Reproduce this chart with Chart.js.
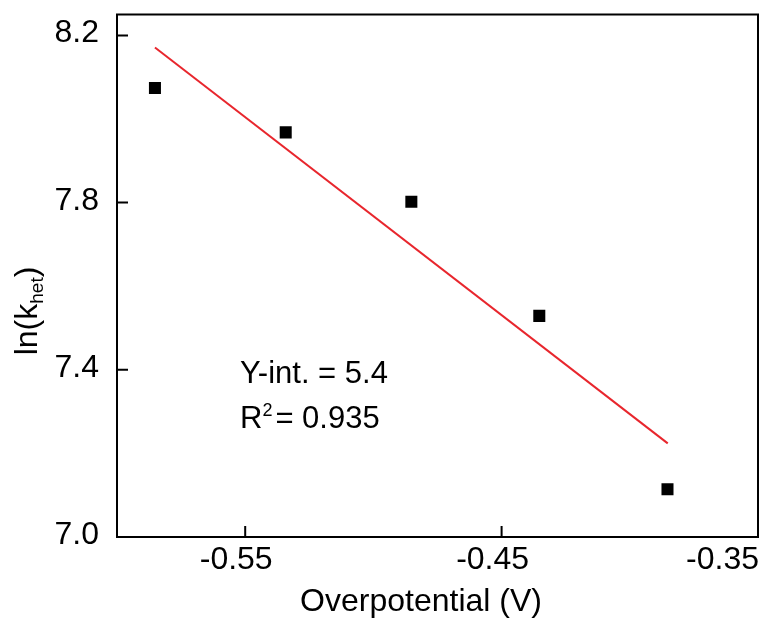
<!DOCTYPE html>
<html>
<head>
<meta charset="utf-8">
<title>ln(k_het) vs overpotential</title>
<script src="https://cdn.jsdelivr.net/npm/chart.js@4.4.1/dist/chart.umd.min.js"></script>
<style>
  html, body { margin: 0; padding: 0; background: #ffffff; overflow: hidden; }
  #wrap { position: relative; width: 762px; height: 618px; }
  #chart { display: block; }
</style>
</head>
<body>
<div id="wrap"><canvas id="chart"></canvas></div>
<script>
// Measured points: overpotential (V) and ln(k_het)
const overpotential = [-0.5852, -0.5342, -0.4852, -0.4353, -0.3853];
const lnKhet = [8.074, 7.968, 7.802, 7.529, 7.114];

// Linear fit drawn across the measured range
const fitX = [-0.5852, -0.3852];
const fitY = [8.171, 7.224];

// Axis ticks
const xTicks = [-0.55, -0.45, -0.35];
const xTickLabels = ['-0.55', '-0.45', '-0.35'];
const yTicks = [7.0, 7.4, 7.8, 8.2];
const yTickLabels = ['7.0', '7.4', '7.8', '8.2'];

const FONT = '"Liberation Sans", Arial, Helvetica, sans-serif';

const framePlugin = {
  id: 'frameAndLabels',
  afterDraw(chart) {
    const ctx = chart.ctx;
    const area = chart.chartArea;
    const xs = chart.scales.x;
    const ys = chart.scales.y;
    ctx.save();

    // Box around the plot
    ctx.strokeStyle = '#000000';
    ctx.lineWidth = 2;
    ctx.strokeRect(area.left, area.top, area.right - area.left, area.bottom - area.top);

    // Inward tick marks
    const tickLen = 11;
    ctx.beginPath();
    xTicks.forEach(v => {
      const px = xs.getPixelForValue(v);
      ctx.moveTo(px, area.bottom);
      ctx.lineTo(px, area.bottom - tickLen);
    });
    yTicks.forEach(v => {
      const py = ys.getPixelForValue(v);
      ctx.moveTo(area.left, py);
      ctx.lineTo(area.left + tickLen, py);
    });
    ctx.stroke();

    // Tick labels
    ctx.fillStyle = '#000000';
    ctx.font = '32px ' + FONT;
    ctx.textBaseline = 'alphabetic';
    ctx.textAlign = 'right';
    yTicks.forEach((v, i) => {
      const py = ys.getPixelForValue(v);
      ctx.fillText(yTickLabels[i], area.left - 18, py + 7);
    });
    ctx.textAlign = 'left';
    xTicks.forEach((v, i) => {
      const px = xs.getPixelForValue(v);
      const w = ctx.measureText(xTickLabels[i]).width;
      let left = px - 9 - w / 2;
      if (left + w > chart.width - 3) left = chart.width - 3 - w;
      ctx.fillText(xTickLabels[i], left, 569);
    });

    // X axis title
    ctx.textAlign = 'center';
    ctx.fillText('Overpotential (V)', 421, 611);

    // Y axis title with subscript, rotated
    ctx.save();
    ctx.font = '32px ' + FONT;
    const mainW = ctx.measureText('ln(k').width;
    const closeW = ctx.measureText(')').width;
    ctx.font = '19px ' + FONT;
    const subW = ctx.measureText('het').width;
    const total = mainW + subW + closeW;
    ctx.translate(37, 311 + total / 2);
    ctx.rotate(-Math.PI / 2);
    ctx.textAlign = 'left';
    ctx.font = '32px ' + FONT;
    ctx.fillText('ln(k', 0, 0);
    ctx.font = '19px ' + FONT;
    ctx.fillText('het', mainW, 6);
    ctx.font = '32px ' + FONT;
    ctx.fillText(')', mainW + subW, 0);
    ctx.restore();

    // Fit annotation
    ctx.textAlign = 'left';
    ctx.font = '31px ' + FONT;
    ctx.fillText('Y-int. = 5.4', 240, 383);
    ctx.fillText('R', 240, 428);
    const rW = ctx.measureText('R').width;
    ctx.font = '18px ' + FONT;
    ctx.fillText('2', 240 + rW, 416);
    const sW = ctx.measureText('2').width;
    ctx.font = '31px ' + FONT;
    ctx.fillText('= 0.935', 240 + rW + sW + 3, 428);

    ctx.restore();
  }
};

new Chart(document.getElementById('chart'), {
  data: {
    datasets: [
      {
        type: 'line',
        label: 'Linear fit',
        data: fitX.map((x, i) => ({ x: x, y: fitY[i] })),
        borderColor: '#e8262d',
        borderWidth: 2,
        pointRadius: 0,
        fill: false,
        tension: 0,
        order: 2
      },
      {
        type: 'scatter',
        label: 'ln(k_het)',
        data: overpotential.map((x, i) => ({ x: x, y: lnKhet[i] })),
        pointStyle: 'rect',
        pointRadius: 8.5,
        pointHoverRadius: 8.5,
        backgroundColor: '#000000',
        borderWidth: 0,
        order: 1
      }
    ]
  },
  options: {
    responsive: true,
    maintainAspectRatio: false,
    animation: false,
    devicePixelRatio: 1,
    layout: { autoPadding: false, padding: { left: 117, top: 14.5, right: 4, bottom: 81 } },
    plugins: { legend: { display: false }, tooltip: { enabled: false } },
    scales: {
      x: { type: 'linear', min: -0.6, max: -0.35, display: false },
      y: { type: 'linear', min: 7.0, max: 8.25, display: false }
    }
  },
  plugins: [framePlugin]
});
</script>
</body>
</html>
